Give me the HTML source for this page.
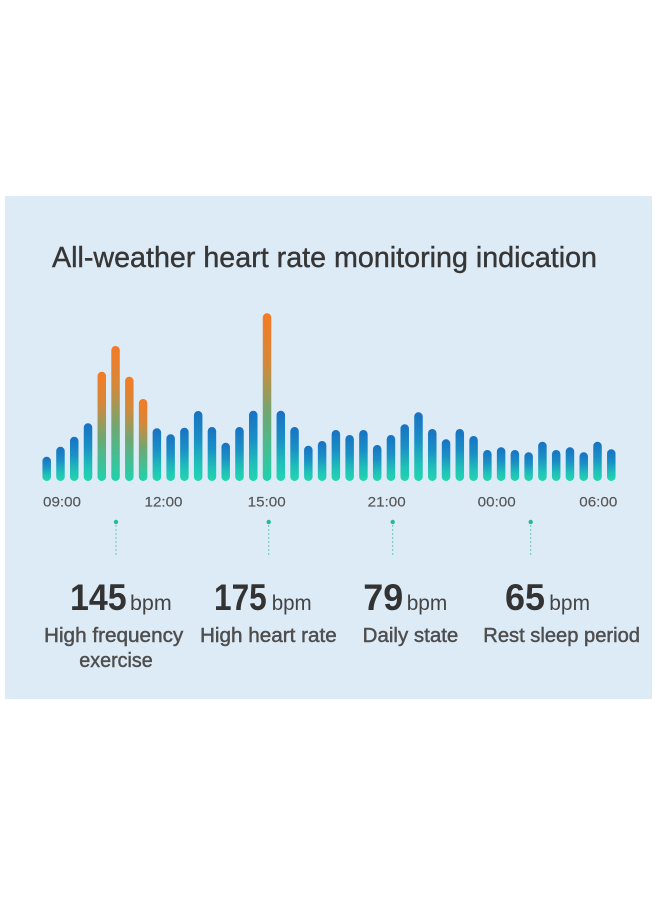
<!DOCTYPE html>
<html>
<head>
<meta charset="utf-8">
<style>
  html, body { margin: 0; padding: 0; background: #ffffff; }
  body { width: 660px; height: 900px; overflow: hidden; }
  svg { display: block; }
  text { font-family: "Liberation Sans", sans-serif; }
</style>
</head>
<body>
<svg width="660" height="900" viewBox="0 0 660 900" xmlns="http://www.w3.org/2000/svg">
  <defs>
    <linearGradient id="gb" x1="0" y1="0" x2="0" y2="1">
      <stop offset="0" stop-color="#1872c2"/>
      <stop offset="0.4" stop-color="#1a8fc6"/>
      <stop offset="0.75" stop-color="#1fc0b8"/>
      <stop offset="1" stop-color="#22d6b0"/>
    </linearGradient>
    <linearGradient id="go" x1="0" y1="0" x2="0" y2="1">
      <stop offset="0" stop-color="#f57a25"/>
      <stop offset="0.3" stop-color="#d3893a"/>
      <stop offset="0.6" stop-color="#6fa772"/>
      <stop offset="1" stop-color="#1fd2ae"/>
    </linearGradient>
  </defs>

  <rect x="5" y="196" width="647" height="503" fill="#ddebf6"/>

  <text x="52" y="267" font-size="29" fill="#363636" stroke="#363636" stroke-width="0.4" textLength="545" lengthAdjust="spacingAndGlyphs">All-weather heart rate monitoring indication</text>

  <g font-size="14" fill="#555" stroke="#555" stroke-width="0.15" text-anchor="middle">
    <text x="62" y="506.7" textLength="38" lengthAdjust="spacingAndGlyphs">09:00</text>
    <text x="163.5" y="506.7" textLength="38" lengthAdjust="spacingAndGlyphs">12:00</text>
    <text x="266.7" y="506.7" textLength="38" lengthAdjust="spacingAndGlyphs">15:00</text>
    <text x="386.7" y="506.7" textLength="38" lengthAdjust="spacingAndGlyphs">21:00</text>
    <text x="496.7" y="506.7" textLength="38" lengthAdjust="spacingAndGlyphs">00:00</text>
    <text x="598.3" y="506.7" textLength="38" lengthAdjust="spacingAndGlyphs">06:00</text>
  </g>

  <g stroke="#6cc7b5" stroke-width="1" stroke-dasharray="2 2">
    <line x1="116" y1="525" x2="116" y2="556"/>
    <line x1="268.7" y1="525" x2="268.7" y2="556"/>
    <line x1="392.7" y1="525" x2="392.7" y2="556"/>
    <line x1="530.7" y1="525" x2="530.7" y2="556"/>
  </g>
  <g fill="#26b89c">
    <circle cx="116" cy="522" r="2.2"/>
    <circle cx="268.7" cy="522" r="2.2"/>
    <circle cx="392.7" cy="522" r="2.2"/>
    <circle cx="530.7" cy="522" r="2.2"/>
  </g>

  <g fill="#333" font-size="37" font-weight="bold">
    <text x="70" y="610" textLength="56.7" lengthAdjust="spacingAndGlyphs">145</text>
    <text x="214" y="610" textLength="52.7" lengthAdjust="spacingAndGlyphs">175</text>
    <text x="363.3" y="610" textLength="40" lengthAdjust="spacingAndGlyphs">79</text>
    <text x="505" y="610" textLength="40" lengthAdjust="spacingAndGlyphs">65</text>
  </g>
  <g fill="#444" font-size="21">
    <text x="130" y="610" textLength="41.7" lengthAdjust="spacingAndGlyphs">bpm</text>
    <text x="271.7" y="610" textLength="40" lengthAdjust="spacingAndGlyphs">bpm</text>
    <text x="406.7" y="610" textLength="40.6" lengthAdjust="spacingAndGlyphs">bpm</text>
    <text x="549.3" y="610" textLength="40.7" lengthAdjust="spacingAndGlyphs">bpm</text>
  </g>

  <g fill="#4e4e4e" stroke="#4e4e4e" stroke-width="0.45" font-size="20">
    <text x="44" y="642" textLength="139.3" lengthAdjust="spacingAndGlyphs">High frequency</text>
    <text x="79.3" y="667" textLength="73.4" lengthAdjust="spacingAndGlyphs">exercise</text>
    <text x="200" y="642" textLength="136.7" lengthAdjust="spacingAndGlyphs">High heart rate</text>
    <text x="362.7" y="642" textLength="95.6" lengthAdjust="spacingAndGlyphs">Daily state</text>
    <text x="483.3" y="642" textLength="156.7" lengthAdjust="spacingAndGlyphs">Rest sleep period</text>
  </g>

  <!-- bars -->
  <g>
    <rect x="42.45" y="456.7" width="8.5" height="24.3" rx="4.25" fill="url(#gb)"/>
    <rect x="56.22" y="446.7" width="8.5" height="34.3" rx="4.25" fill="url(#gb)"/>
    <rect x="69.99" y="436.7" width="8.5" height="44.3" rx="4.25" fill="url(#gb)"/>
    <rect x="83.76" y="423.3" width="8.5" height="57.7" rx="4.25" fill="url(#gb)"/>
    <rect x="97.53" y="371.7" width="8.5" height="109.3" rx="4.25" fill="url(#go)"/>
    <rect x="111.3" y="346" width="8.5" height="135" rx="4.25" fill="url(#go)"/>
    <rect x="125.07" y="376.7" width="8.5" height="104.3" rx="4.25" fill="url(#go)"/>
    <rect x="138.84" y="399" width="8.5" height="82" rx="4.25" fill="url(#go)"/>
    <rect x="152.61" y="428.3" width="8.5" height="52.7" rx="4.25" fill="url(#gb)"/>
    <rect x="166.38" y="434.3" width="8.5" height="46.7" rx="4.25" fill="url(#gb)"/>
    <rect x="180.15" y="427.7" width="8.5" height="53.3" rx="4.25" fill="url(#gb)"/>
    <rect x="193.92" y="411" width="8.5" height="70" rx="4.25" fill="url(#gb)"/>
    <rect x="207.69" y="427" width="8.5" height="54" rx="4.25" fill="url(#gb)"/>
    <rect x="221.46" y="442.7" width="8.5" height="38.3" rx="4.25" fill="url(#gb)"/>
    <rect x="235.23" y="427" width="8.5" height="54" rx="4.25" fill="url(#gb)"/>
    <rect x="249" y="410.7" width="8.5" height="70.3" rx="4.25" fill="url(#gb)"/>
    <rect x="262.77" y="313.3" width="8.5" height="167.7" rx="4.25" fill="url(#go)"/>
    <rect x="276.54" y="410.7" width="8.5" height="70.3" rx="4.25" fill="url(#gb)"/>
    <rect x="290.31" y="427" width="8.5" height="54" rx="4.25" fill="url(#gb)"/>
    <rect x="304.08" y="445.7" width="8.5" height="35.3" rx="4.25" fill="url(#gb)"/>
    <rect x="317.85" y="441" width="8.5" height="40" rx="4.25" fill="url(#gb)"/>
    <rect x="331.62" y="430" width="8.5" height="51" rx="4.25" fill="url(#gb)"/>
    <rect x="345.39" y="435" width="8.5" height="46" rx="4.25" fill="url(#gb)"/>
    <rect x="359.16" y="430" width="8.5" height="51" rx="4.25" fill="url(#gb)"/>
    <rect x="372.93" y="445" width="8.5" height="36" rx="4.25" fill="url(#gb)"/>
    <rect x="386.7" y="435" width="8.5" height="46" rx="4.25" fill="url(#gb)"/>
    <rect x="400.47" y="424.3" width="8.5" height="56.7" rx="4.25" fill="url(#gb)"/>
    <rect x="414.24" y="412.3" width="8.5" height="68.7" rx="4.25" fill="url(#gb)"/>
    <rect x="428.01" y="429" width="8.5" height="52" rx="4.25" fill="url(#gb)"/>
    <rect x="441.78" y="439.3" width="8.5" height="41.7" rx="4.25" fill="url(#gb)"/>
    <rect x="455.55" y="429" width="8.5" height="52" rx="4.25" fill="url(#gb)"/>
    <rect x="469.32" y="436" width="8.5" height="45" rx="4.25" fill="url(#gb)"/>
    <rect x="483.09" y="450" width="8.5" height="31" rx="4.25" fill="url(#gb)"/>
    <rect x="496.86" y="447.3" width="8.5" height="33.7" rx="4.25" fill="url(#gb)"/>
    <rect x="510.63" y="450" width="8.5" height="31" rx="4.25" fill="url(#gb)"/>
    <rect x="524.4" y="452.3" width="8.5" height="28.7" rx="4.25" fill="url(#gb)"/>
    <rect x="538.17" y="441.7" width="8.5" height="39.3" rx="4.25" fill="url(#gb)"/>
    <rect x="551.94" y="450" width="8.5" height="31" rx="4.25" fill="url(#gb)"/>
    <rect x="565.71" y="447.3" width="8.5" height="33.7" rx="4.25" fill="url(#gb)"/>
    <rect x="579.48" y="452.3" width="8.5" height="28.7" rx="4.25" fill="url(#gb)"/>
    <rect x="593.25" y="441.7" width="8.5" height="39.3" rx="4.25" fill="url(#gb)"/>
    <rect x="607.02" y="449.3" width="8.5" height="31.7" rx="4.25" fill="url(#gb)"/>
  </g>
</svg>
</body>
</html>
